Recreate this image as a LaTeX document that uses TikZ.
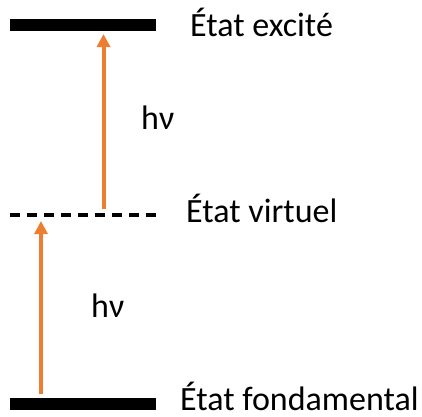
\documentclass[tikz,border=0pt]{standalone}
\usepackage{fontspec}
\setmainfont{Carlito}
\usetikzlibrary{arrows.meta}
\definecolor{arrorange}{HTML}{ED7D31}
\begin{document}
\begin{tikzpicture}[x=1pt,y=-1pt,
  level/.style={line width=12pt,black},
  vlevel/.style={line width=4pt,black,dash pattern=on 10pt off 7pt},
  label/.style={anchor=base west,inner sep=0pt,text depth=0pt,font=\fontsize{34}{40}\selectfont},
  photon/.style={arrorange,line width=4pt,-{Triangle[length=13pt,width=13pt]}}]
\useasboundingbox (0,0) rectangle (422,416);
% levels
\coordinate (e1) at (10,25);  \coordinate (e2) at (156,25);
\coordinate (v1) at (10,215); \coordinate (v2) at (156,215);
\coordinate (g1) at (10,404); \coordinate (g2) at (156,404);
\draw[level] (e1) -- (e2);
\draw[vlevel] (v1) -- (v2);
\draw[level] (g1) -- (g2);
% labels
\node[label] (le) at (190,36) {État excité};
\node[label] (lv) at (186,222) {État virtuel};
\node[label] (lg) at (180,410) {État fondamental};
\node[label] (h1) at (141,129) {hν};
\node[label] (h2) at (91,317) {hν};
% arrows
\coordinate (a1s) at (103.5,209); \coordinate (a1e) at (103.5,34);
\coordinate (a2s) at (41,394);    \coordinate (a2e) at (41,221);
\draw[photon] (a1s) -- (a1e);
\draw[photon] (a2s) -- (a2e);
\end{tikzpicture}
\end{document}
